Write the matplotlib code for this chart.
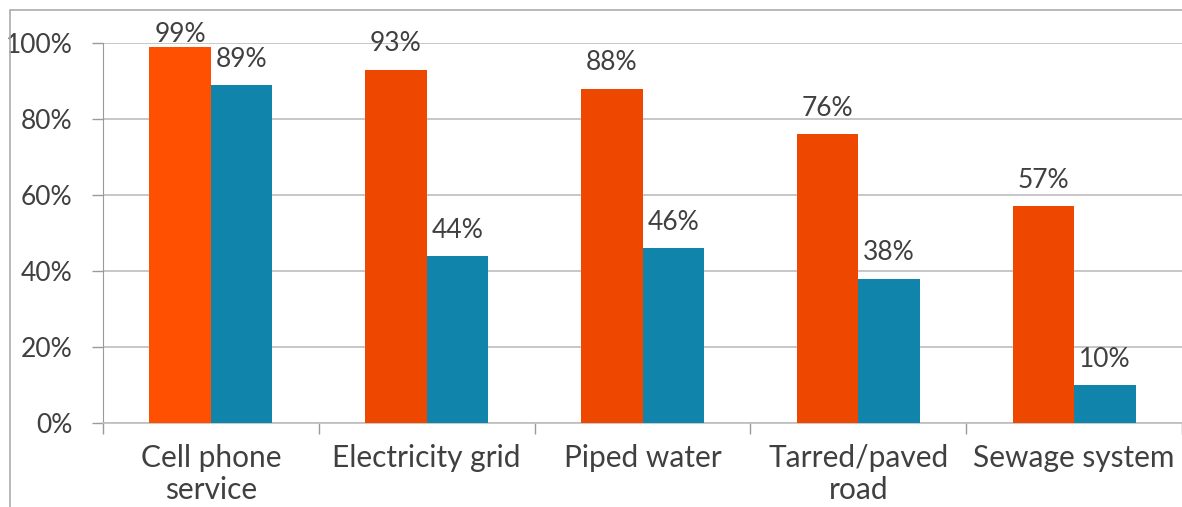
import numpy as np
import matplotlib.pyplot as plt
from matplotlib.patches import Rectangle

plt.rcParams['font.family'] = ['Lato', 'DejaVu Sans']

categories = ["Cell phone\nservice", "Electricity grid", "Piped water",
              "Tarred/paved\nroad", "Sewage system"]
series_a = [99, 93, 88, 76, 57]
series_b = [89, 44, 46, 38, 10]

orange = ["#FE5000", "#EE4800", "#EE4800", "#EE4800", "#EE4800"]
teal = "#1184AC"
text_col = "#404040"
grid_col = "#BDBDBD"

fig = plt.figure(figsize=(11.82, 5.07), dpi=100)
ax = fig.add_axes([103 / 1182, 1 - 423 / 507, 1 - 103 / 1182, 380 / 507])

# outer frame of the chart area
fig.patches.append(Rectangle((10 / 1182, -0.1), 1.2, 1 - 10 / 507 + 0.1,
                             transform=fig.transFigure, fill=False,
                             edgecolor="#ABABAB", lw=1.2))

x = np.arange(len(categories))
w = 0.285
ax.bar(x - w / 2, series_a, w, color=orange, edgecolor="none", zorder=3)
ax.bar(x + w / 2, series_b, w, color=teal, edgecolor="none", zorder=3)

for xi, v in zip(x - w / 2, series_a):
    ax.text(xi, min(v + 4.8, 100.3), f"{v}%", ha="center", va="baseline",
            fontsize=19, color=text_col, zorder=4)
for xi, v in zip(x + w / 2, series_b):
    ax.text(xi, min(v + 4.8, 100.3), f"{v}%", ha="center", va="baseline",
            fontsize=19, color=text_col, zorder=4)

ax.set_xlim(-0.5, len(categories) - 0.5)
ax.set_ylim(0, 100)
ax.set_yticks(np.arange(0, 101, 20))
ax.set_yticklabels([f"{t}%" for t in range(0, 101, 20)], fontsize=19, color=text_col)
ax.yaxis.grid(True, color=grid_col, lw=1.2, zorder=0)
ax.set_axisbelow(True)

ax.set_xticks(x)
ax.set_xticklabels(categories, fontsize=21.5, color=text_col, linespacing=1.2)
ax.set_xticks(np.arange(-0.5, len(categories), 1), minor=True)
ax.tick_params(axis="x", which="major", length=0, pad=15)
ax.tick_params(axis="x", which="minor", length=8, color="#9A9A9A", width=1)
ax.tick_params(axis="y", length=8, color="#9A9A9A", width=1, pad=14)

for s in ["top", "right"]:
    ax.spines[s].set_visible(False)
ax.spines["left"].set_color("#9A9A9A")
ax.spines["bottom"].set_color(grid_col)
ax.spines["bottom"].set_linewidth(1.2)

fig.savefig("out.png", dpi=100)
